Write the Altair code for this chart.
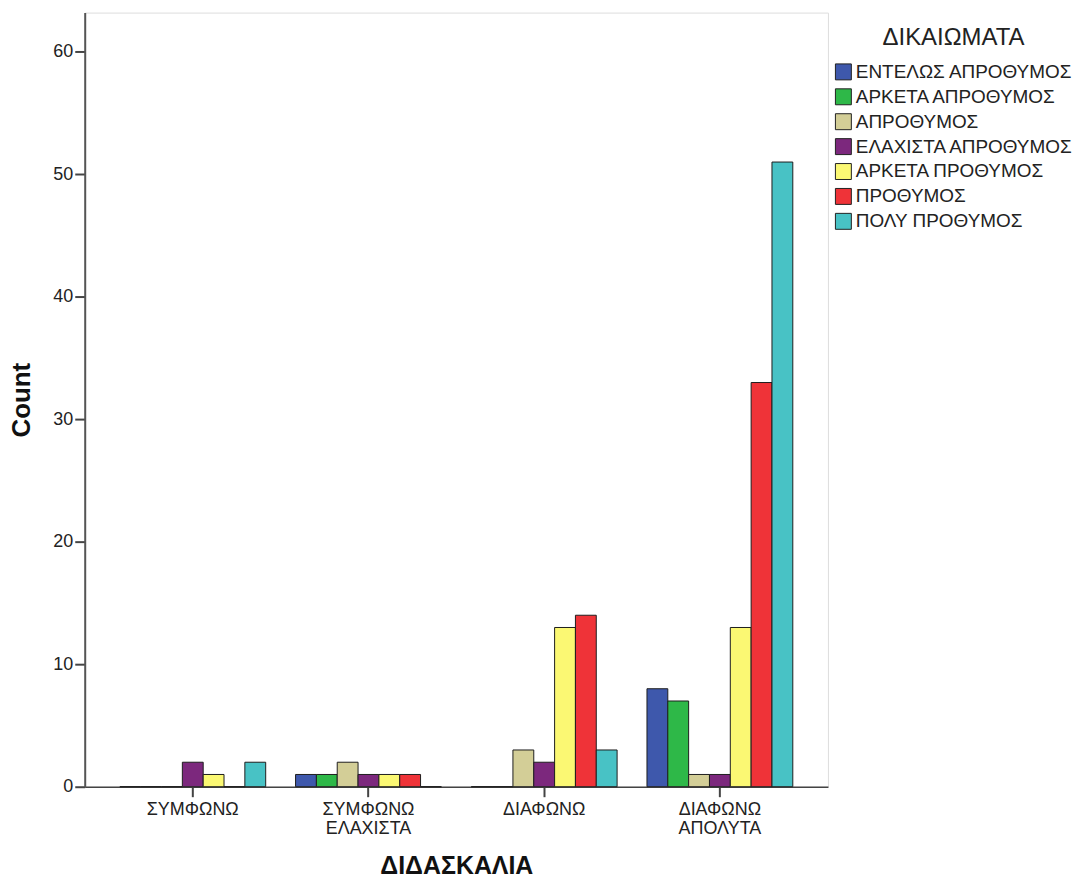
import altair as alt
import pandas as pd

categories = ["ΣΥΜΦΩΝΩ", "ΣΥΜΦΩΝΩ ΕΛΑΧΙΣΤΑ", "ΔΙΑΦΩΝΩ", "ΔΙΑΦΩΝΩ ΑΠΟΛΥΤΑ"]
series = [
    "ΕΝΤΕΛΩΣ ΑΠΡΟΘΥΜΟΣ",
    "ΑΡΚΕΤΑ ΑΠΡΟΘΥΜΟΣ",
    "ΑΠΡΟΘΥΜΟΣ",
    "ΕΛΑΧΙΣΤΑ ΑΠΡΟΘΥΜΟΣ",
    "ΑΡΚΕΤΑ ΠΡΟΘΥΜΟΣ",
    "ΠΡΟΘΥΜΟΣ",
    "ΠΟΛΥ ΠΡΟΘΥΜΟΣ",
]
colors = ["#3E58AC", "#2EB848", "#D3CE97", "#7C287D", "#FBF873", "#EF3338", "#48C2C5"]

entelos_aprothymos = [0, 1, 0, 8]
arketa_aprothymos = [0, 1, 0, 7]
aprothymos = [0, 2, 3, 1]
elaxista_aprothymos = [2, 1, 2, 1]
arketa_prothymos = [1, 1, 13, 13]
prothymos = [0, 1, 14, 33]
poly_prothymos = [2, 0, 3, 51]

y_ticks = [0, 10, 20, 30, 40, 50, 60]

values = [entelos_aprothymos, arketa_aprothymos, aprothymos, elaxista_aprothymos,
          arketa_prothymos, prothymos, poly_prothymos]
rows = []
for s, vals in zip(series, values):
    for c, v in zip(categories, vals):
        rows.append({"cat": c, "series": s, "count": v})
df = pd.DataFrame(rows)

FONT = "Liberation Sans"

chart = alt.Chart(df).mark_bar(stroke="#1e1e1e", strokeWidth=1).encode(
    x=alt.X(
        "cat:N",
        sort=categories,
        scale=alt.Scale(paddingInner=0.17, paddingOuter=0.2),
        axis=alt.Axis(
            title="ΔΙΔΑΣΚΑΛΙΑ",
            labelAngle=0,
            labelExpr="split(datum.label, ' ')",
            labelFont=FONT,
            labelFontSize=18,
            labelColor="#222222",
            labelLineHeight=19,
            labelPadding=4,
            tickSize=10,
            tickWidth=2,
            tickColor="#444444",
            domainColor="#444444",
            domainWidth=1.5,
            titleFont=FONT,
            titleFontSize=25,
            titleFontWeight="bold",
            titleColor="#111111",
            titlePadding=16,
        ),
    ),
    xOffset=alt.XOffset("series:N", sort=series, scale=alt.Scale(paddingInner=0, paddingOuter=0)),
    y=alt.Y(
        "count:Q",
        scale=alt.Scale(domain=[0, 63.2], nice=False, zero=True),
        axis=alt.Axis(
            title="Count",
            values=y_ticks,
            grid=False,
            labelFont=FONT,
            labelFontSize=18,
            labelColor="#222222",
            labelPadding=2,
            tickSize=10,
            tickWidth=2,
            tickColor="#444444",
            domainColor="#555555",
            domainWidth=2,
            titleFont=FONT,
            titleFontSize=26,
            titleFontWeight="bold",
            titleColor="#111111",
            titlePadding=18,
        ),
    ),
    color=alt.Color(
        "series:N",
        sort=series,
        scale=alt.Scale(domain=series, range=colors),
        legend=alt.Legend(
            title="ΔΙΚΑΙΩΜΑΤΑ",
            orient="none",
            legendX=752,
            legendY=14,
            titleFont=FONT,
            titleFontSize=24,
            titleFontWeight="normal",
            titleColor="#222222",
            titleAnchor="middle",
            titlePadding=12,
            labelFont=FONT,
            labelFontSize=19,
            labelColor="#222222",
            labelOffset=3,
            symbolType="square",
            symbolSize=256,
            symbolStrokeColor="#222222",
            symbolStrokeWidth=1,
            symbolOpacity=1,
            rowPadding=4,
            labelLimit=400,
        ),
    ),
).properties(
    width=746,
    height=777,
    autosize=alt.AutoSizeParams(type="none"),
    padding={"left": 77, "top": 3, "right": 255, "bottom": 94},
).configure_view(
    fill="#F0F0F0",
    stroke="#999999",
    strokeWidth=1,
).configure(background="white")

chart.save("out.html", embed_options={"renderer": "svg", "actions": False})
